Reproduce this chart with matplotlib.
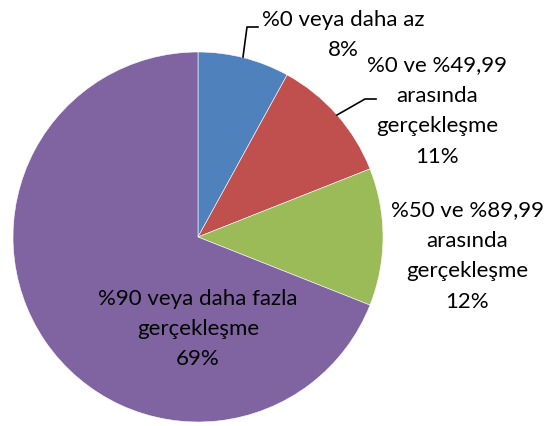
import matplotlib.pyplot as plt

# data
categories = ['%0 veya daha az',
              '%0 ve %49,99\narasında\ngerçekleşme',
              '%50 ve %89,99\narasında\ngerçekleşme',
              '%90 veya daha fazla\ngerçekleşme']
shares = [8, 11, 12, 69]
colors = ['#4F81BD', '#C0504D', '#9BBB59', '#8064A2']

W, H = 555, 427
plt.rcParams['font.family'] = ['Lato', 'DejaVu Sans']

fig = plt.figure(figsize=(W / 100, H / 100), dpi=100)
ax = fig.add_axes([0, 0, 1, 1])

cx, cy, r = 198, H - 238, 185
ax.pie(shares, colors=colors, startangle=90, counterclock=False,
       center=(cx, cy), radius=r, frame=True,
       wedgeprops=dict(linewidth=0.4, edgecolor='white'))
ax.set_xlim(0, W)
ax.set_ylim(0, H)
ax.set_aspect('equal')
ax.axis('off')

# label positions in pixels (x, y from top)
label_pos = [(343, 35), (437, 111), (467, 256), (198, 329)]
fs = 16
for cat, val, (x, y) in zip(categories, shares, label_pos):
    ax.text(x, H - y, f'{cat}\n{val}%', ha='center', va='center',
            fontsize=fs, linespacing=1.65, color='black')

# leader lines
ax.plot([243, 247, 258], [H - 58, H - 28, H - 28], color='black', lw=1.2)
ax.plot([337, 365, 376], [H - 116, H - 100, H - 100], color='black', lw=1.2)

fig.savefig('out.png', dpi=100)
